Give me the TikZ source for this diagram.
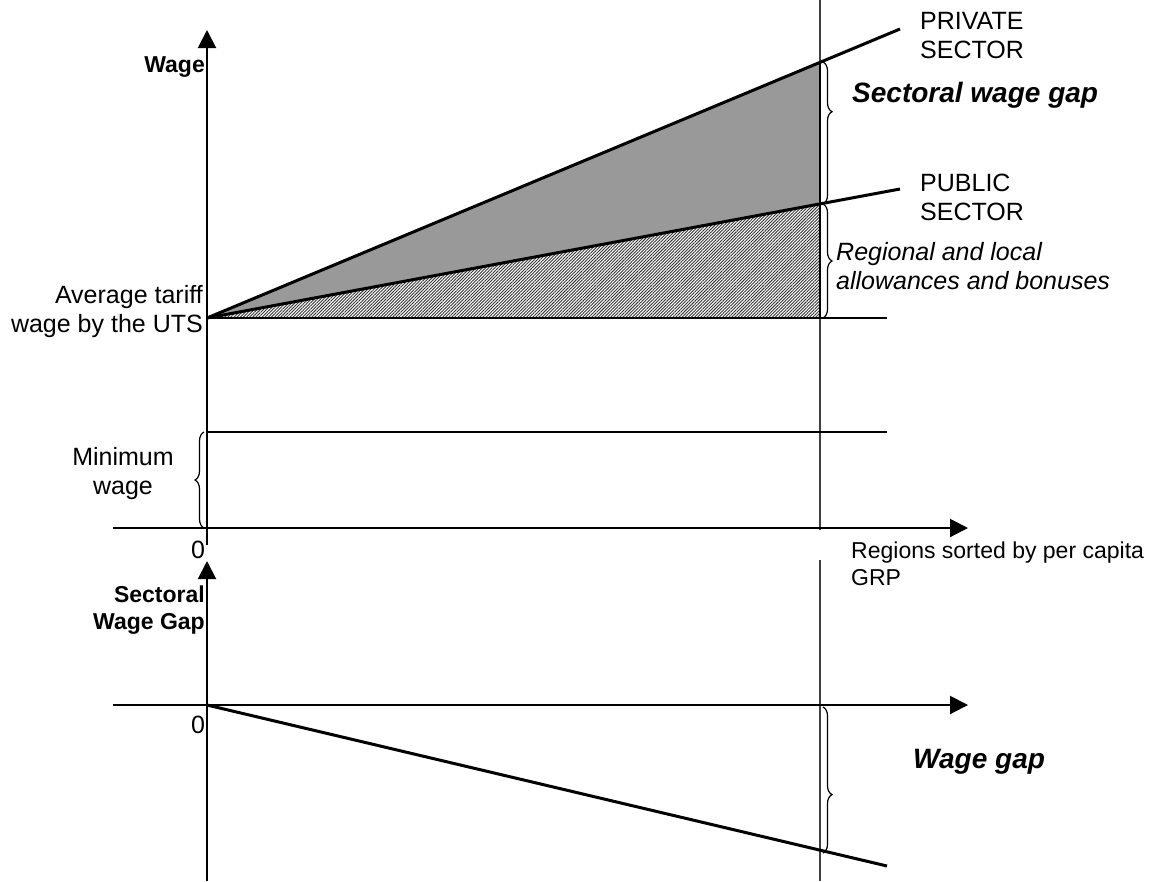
\documentclass[tikz,border=0pt]{standalone}
\usepackage{fontspec}
\setmainfont{Liberation Sans}
\usetikzlibrary{arrows.meta,patterns.meta,decorations.pathreplacing}

\begin{document}
\begin{tikzpicture}[x=1pt, y=-1pt,
  axis/.style={line width=2pt, -{Triangle[length=18pt,width=18pt]}},
  sector/.style={line width=3pt},
  guide/.style={line width=1.2pt, black!75},
  level/.style={line width=1.2pt},
  gapbrace/.style={line width=1.2pt, decorate,
    decoration={brace, amplitude=9pt, aspect=#1}},
  gapbrace/.default=0.5,
  lbl/.style={inner sep=0pt, font=\fontsize{25}{29}\selectfont},
  smalllbl/.style={inner sep=0pt, font=\fontsize{23}{27}\selectfont},
  axlbl/.style={inner sep=0pt, font=\fontsize{23}{27}\selectfont\bfseries},
  gaplbl/.style={inner sep=0pt, font=\fontsize{28}{32}\selectfont\bfseries\itshape}]

\useasboundingbox (0,0) rectangle (1155,881);

% points of the upper chart
\coordinate (O1) at (207,528);
\coordinate (tariff) at (207,318);
\coordinate (priv) at (820,62);
\coordinate (pub) at (820,204);
\coordinate (base) at (820,318);
\coordinate (privend) at (900,29);
\coordinate (pubend) at (900,189);
\coordinate (minw) at (207,432);
% points of the lower chart
\coordinate (O2) at (207,705);
\coordinate (gap) at (820,850);
\coordinate (gapend) at (887,866);

% areas
\fill[black!40] (tariff) -- (priv) -- (pub) -- cycle;
\fill[pattern={Lines[angle=45,distance=2.2pt,line width=0.9pt]}, pattern color=black!80]
  (tariff) -- (pub) -- (base) -- cycle;

% guide lines
\draw[guide] (820,0) -- (820,530);
\draw[guide] (820,560) -- (820,881);
\draw[level] (tariff) -- (887,318);
\draw[level] (minw) -- (887,432);
\draw[line width=2pt] (priv) -- (base);

% axes
\draw[axis] (207,545) -- (207,30);
\draw[axis] (113,528) -- (968,528);
\draw[axis] (207,881) -- (207,561);
\draw[axis] (113,705) -- (968,705);

% sector lines
\draw[sector] (tariff) -- (privend);
\draw[sector] (tariff) -- (pubend);
\draw[sector] (O2) -- (gapend);

% braces
\draw[gapbrace=0.35] (823,62) -- (823,204);
\draw[gapbrace] (823,204) -- (823,318);
\draw[gapbrace] (204,528) -- (204,432);
\draw[gapbrace=0.6] (823,707) -- (823,853);

% labels
\node[axlbl, anchor=east] (wage) at (205,67) {Wage};
\node[lbl, anchor=east, align=right] (avg) at (203,312) {Average tariff\\wage by the UTS};
\node[lbl, align=center] (minlbl) at (123,474) {Minimum\\wage};
\node[lbl] (zero1) at (198,550) {0};
\node[axlbl, anchor=east, align=right] (sgap) at (205,610) {Sectoral\\Wage Gap};
\node[lbl] (zero2) at (198,725) {0};
\node[lbl, anchor=west, align=left] (privlbl) at (920,36) {PRIVATE\\SECTOR};
\node[lbl, anchor=west, align=left] (publbl) at (920,197) {PUBLIC\\SECTOR};
\node[gaplbl, anchor=west] (sectgap) at (852,95) {Sectoral wage gap};
\node[lbl, anchor=west, align=left, font=\fontsize{25}{29}\selectfont\itshape] (allow) at (836,266)
  {Regional and local\\allowances and bonuses};
\node[smalllbl, anchor=west, align=left] (regions) at (851,564) {Regions sorted by per capita\\GRP};
\node[gaplbl, anchor=west] (wagegap) at (913,762) {Wage gap};

\end{tikzpicture}
\end{document}
